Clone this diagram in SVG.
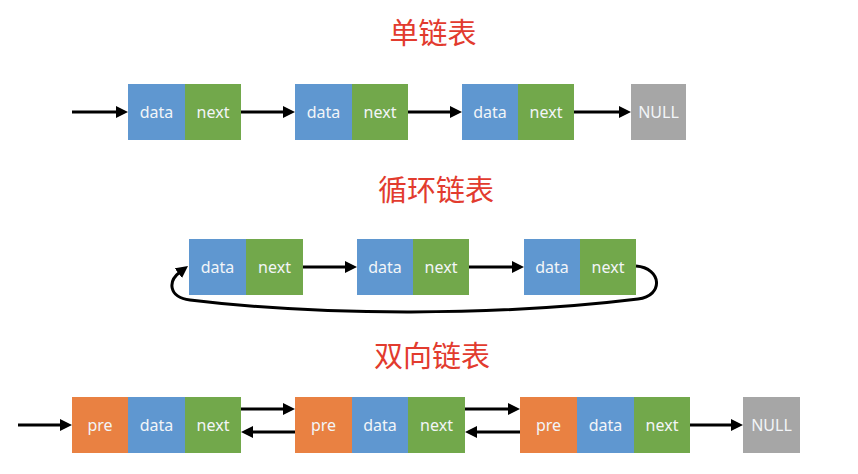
<svg xmlns="http://www.w3.org/2000/svg" width="858" height="474" viewBox="0 0 858 474">
<style>
.title{font-family:"Noto Sans CJK SC","Noto Sans",sans-serif;font-size:29px;fill:#e23b2e;text-anchor:middle}
.lbl{font-family:"Noto Sans","Liberation Sans",sans-serif;font-size:16px;fill:#f2f5f8;text-anchor:middle;dominant-baseline:central}
.data{fill:#5f97d0}
.next{fill:#72a84b}
.pre{fill:#e98142}
.null{fill:#a6a6a6}
.conn{stroke:#000;stroke-width:3;fill:none;marker-end:url(#ah)}
</style>
<defs>
<marker id="ah" viewBox="0 0 12 12" refX="2" refY="6" markerWidth="12" markerHeight="12" markerUnits="userSpaceOnUse" orient="auto">
<path d="M0,0 L12,6 L0,12 z" fill="#000"/>
</marker>
</defs>
<rect width="858" height="474" fill="#fff"/>
<text class="title" x="433" y="44">单链表</text>
<text class="title" x="436" y="201">循环链表</text>
<text class="title" x="432" y="367">双向链表</text>

<g id="s1"><rect class="data" x="128" y="84" width="57" height="56"/><rect class="next" x="185" y="84" width="56" height="56"/><text class="lbl" x="156.5" y="112">data</text><text class="lbl" x="213" y="112">next</text></g>
<g id="s2"><rect class="data" x="295" y="84" width="57" height="56"/><rect class="next" x="352" y="84" width="56" height="56"/><text class="lbl" x="323.5" y="112">data</text><text class="lbl" x="380" y="112">next</text></g>
<g id="s3"><rect class="data" x="462" y="84" width="56" height="56"/><rect class="next" x="518" y="84" width="56" height="56"/><text class="lbl" x="490" y="112">data</text><text class="lbl" x="546" y="112">next</text></g>
<g id="snull"><rect class="null" x="631" y="84" width="55" height="56"/><text class="lbl" x="658.5" y="112">NULL</text></g>

<g id="c1"><rect class="data" x="189" y="239" width="57" height="56"/><rect class="next" x="246" y="239" width="57" height="56"/><text class="lbl" x="217.5" y="267">data</text><text class="lbl" x="274.5" y="267">next</text></g>
<g id="c2"><rect class="data" x="357" y="239" width="56" height="56"/><rect class="next" x="413" y="239" width="56" height="56"/><text class="lbl" x="385" y="267">data</text><text class="lbl" x="441" y="267">next</text></g>
<g id="c3"><rect class="data" x="524" y="239" width="56" height="56"/><rect class="next" x="580" y="239" width="56" height="56"/><text class="lbl" x="552" y="267">data</text><text class="lbl" x="608" y="267">next</text></g>

<g id="d1"><rect class="pre" x="72" y="397" width="56" height="56"/><rect class="data" x="128" y="397" width="57" height="56"/><rect class="next" x="185" y="397" width="56" height="56"/><text class="lbl" x="100" y="425">pre</text><text class="lbl" x="156.5" y="425">data</text><text class="lbl" x="213" y="425">next</text></g>
<g id="d2"><rect class="pre" x="295" y="397" width="57" height="56"/><rect class="data" x="352" y="397" width="56" height="56"/><rect class="next" x="408" y="397" width="57" height="56"/><text class="lbl" x="323.5" y="425">pre</text><text class="lbl" x="380" y="425">data</text><text class="lbl" x="436.5" y="425">next</text></g>
<g id="d3"><rect class="pre" x="520" y="397" width="57" height="56"/><rect class="data" x="577" y="397" width="57" height="56"/><rect class="next" x="634" y="397" width="56" height="56"/><text class="lbl" x="548.5" y="425">pre</text><text class="lbl" x="605.5" y="425">data</text><text class="lbl" x="662" y="425">next</text></g>
<g id="dnull"><rect class="null" x="743" y="397" width="57" height="56"/><text class="lbl" x="771.5" y="425">NULL</text></g>

<g id="connectors">
<line class="conn" x1="72" y1="112" x2="118" y2="112"/>
<line class="conn" x1="241" y1="112" x2="285" y2="112"/>
<line class="conn" x1="408" y1="112" x2="452" y2="112"/>
<line class="conn" x1="574" y1="112" x2="621" y2="112"/>

<line class="conn" x1="303" y1="267" x2="347" y2="267"/>
<line class="conn" x1="469" y1="267" x2="514" y2="267"/>
<path class="conn" d="M636,266 C662,268 664,296 638,299 C500,316 320,316 190,300 C168,297 168,281 180,272"/>

<line class="conn" x1="18" y1="425" x2="62" y2="425"/>
<line class="conn" x1="241" y1="409" x2="285" y2="409"/>
<line class="conn" x1="295" y1="432" x2="251" y2="432"/>
<line class="conn" x1="465" y1="409" x2="510" y2="409"/>
<line class="conn" x1="520" y1="432" x2="475" y2="432"/>
<line class="conn" x1="690" y1="425" x2="733" y2="425"/>
</g>
</svg>
